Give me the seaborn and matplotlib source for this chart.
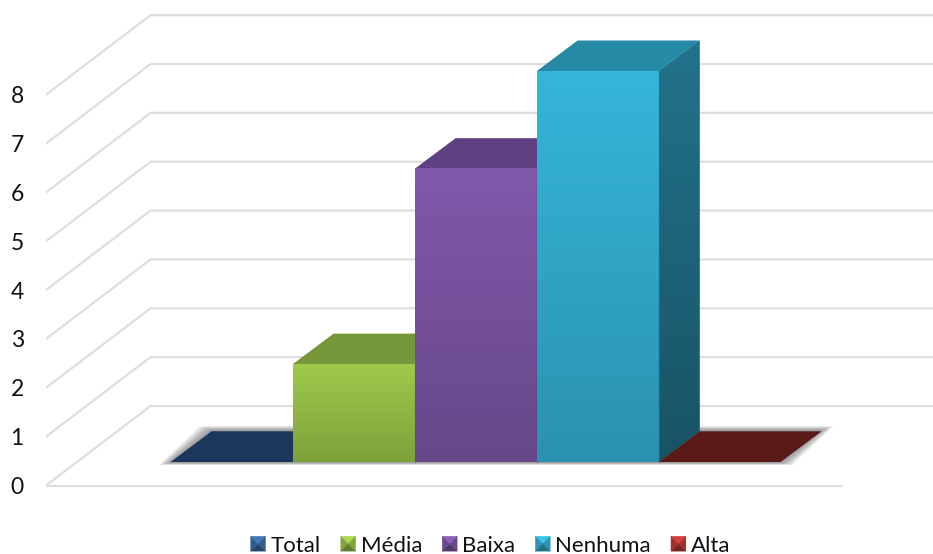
import numpy as np
import pandas as pd
import matplotlib
matplotlib.use("Agg")
import matplotlib.pyplot as plt
from matplotlib.colors import to_rgb, LinearSegmentedColormap
from matplotlib.patches import Polygon, Rectangle
from matplotlib.legend_handler import HandlerBase
import seaborn as sns

categories = ["Total", "Média", "Baixa", "Nenhuma", "Alta"]
values = [0, 2, 6, 8, 0]
y_ticks = [0, 1, 2, 3, 4, 5, 6, 7, 8]

front_colors = ["#3A70AE", "#9FC94A", "#8059AB", "#35B6DA", "#C83A36"]
top_colors = ["#1B375C", "#76963A", "#5E4083", "#268AA6", "#5A1B18"]
side_colors = ["#16304F", "#5F7A2D", "#4A3368", "#22738C", "#4A1614"]

W, H = 933, 554
sns.set_theme(style="white")
plt.rcParams["font.family"] = ["Lato", "DejaVu Sans"]
fig = plt.figure(figsize=(W / 100, H / 100), dpi=100)
ax_left, ax_bottom_px = 46, 500
ax = fig.add_axes([ax_left / W, 1 - ax_bottom_px / H, (W - ax_left) / W, ax_bottom_px / H])

df = pd.DataFrame({"cat": categories, "val": values})
sns.barplot(data=df, x="cat", y="val", hue="cat", hue_order=categories,
            palette=dict(zip(categories, front_colors)), width=1.0, gap=0,
            saturation=1, ax=ax, legend=True, zorder=5)

# pixel scale of the plot
PX_PER_CAT, PX_PER_UNIT = 122.0, 48.85
X0_PX, Y0_PX = 231.6, 462.0
def set_limits():
    ax.set_xlim((ax_left - X0_PX) / PX_PER_CAT, (W - X0_PX) / PX_PER_CAT)
    ax.set_ylim((Y0_PX - ax_bottom_px) / PX_PER_UNIT, Y0_PX / PX_PER_UNIT)
set_limits()

grid_c = "#DEDEDE"
front_base = (Y0_PX - 485.5) / PX_PER_UNIT
wall_dx, wall_dy = 104.5 / PX_PER_CAT, 79.5 / PX_PER_UNIT
front_end = (841.7 - X0_PX) / PX_PER_CAT
x_start = (ax_left - X0_PX) / PX_PER_CAT
for v in y_ticks:
    y = front_base + v
    ax.plot([x_start, x_start + wall_dx, 6], [y, y + wall_dy, y + wall_dy],
            color=grid_c, lw=1.6, zorder=1, solid_joinstyle="miter", clip_on=True)
ax.plot([x_start, front_end], [front_base, front_base], color=grid_c, lw=1.6, zorder=1)

ax.set_yticks([front_base + v for v in y_ticks], labels=[str(v) for v in y_ticks])
ax.tick_params(axis="y", length=0, pad=16.0, labelsize=16.5, labelcolor="#111111")
ax.set_xticks([])
ax.set_xlabel("")
ax.set_ylabel("")
sns.despine(ax=ax, left=True, bottom=True)
ax.grid(False)

dx, dy = 41.0 / PX_PER_CAT, 30.7 / PX_PER_UNIT
rects = [c[0] for c in ax.containers]

# soft shadow beneath the floor
x_lo, x_hi = rects[0].get_x(), rects[-1].get_x() + rects[-1].get_width()
n_levels = 14
for k in range(1, n_levels + 1):
    ex = (k * 1.0 - 2) / PX_PER_CAT
    eu = (k * 0.38) / PX_PER_UNIT
    ed = (k * 0.22) / PX_PER_UNIT
    ax.add_patch(Polygon([(x_lo - ex, -ed), (x_hi + ex, -ed),
                          (x_hi + dx + ex, dy + eu), (x_lo + dx - ex, dy + eu)],
                         closed=True, fc="#505050", ec="none", alpha=0.06, zorder=2))

def gradient(c, top=1.0, bottom=0.8):
    c = np.array(to_rgb(c))
    return LinearSegmentedColormap.from_list("g", [c * bottom, c * top])

grad = np.linspace(0, 1, 256).reshape(-1, 1)
for i, r in enumerate(rects):
    x0, x1, h = r.get_x(), r.get_x() + r.get_width(), r.get_height()
    z = 5 + i
    r.set_edgecolor("none")
    r.set_linewidth(0)
    if h > 0:
        side = Polygon([(x1, 0), (x1 + dx, dy), (x1 + dx, h + dy), (x1, h)],
                       closed=True, fc=side_colors[i], ec="none", zorder=z)
        ax.add_patch(side)
        im = ax.imshow(grad, origin="lower", aspect="auto", extent=(x1, x1 + dx, 0, h + dy),
                       cmap=gradient(side_colors[i], 1.0, 0.72), zorder=z)
        im.set_clip_path(side)
    ax.add_patch(Polygon([(x0, h), (x1, h), (x1 + dx, h + dy), (x0 + dx, h + dy)],
                         closed=True, fc=top_colors[i], ec="none", zorder=z + 0.1))
    if h > 0:
        r.set_zorder(z + 0.2)
        r.set_facecolor(np.array(to_rgb(front_colors[i])) * 0.9)
        im = ax.imshow(grad, origin="lower", aspect="auto", extent=(x0, x1, 0, h),
                       cmap=gradient(front_colors[i]), zorder=z + 0.25)
        ax.plot([x1, x1], [0, h], color=side_colors[i], lw=1.0, alpha=0.5, zorder=z + 0.3)
set_limits()

class PyramidHandler(HandlerBase):
    def create_artists(self, legend, orig, xd, yd, width, height, fontsize, trans):
        c = np.array(to_rgb(orig.get_facecolor()))
        x0, y0 = -xd, -yd + (height - width) / 2
        cx, cy, s = x0 + width / 2, y0 + width / 2, width
        tl, tr, bl, br = (x0, y0 + s), (x0 + s, y0 + s), (x0, y0), (x0 + s, y0)
        parts = [([tl, tr, (cx, cy)], np.clip(c * 1.08, 0, 1)),
                 ([bl, tl, (cx, cy)], c * 0.82),
                 ([br, tr, (cx, cy)], c * 0.82),
                 ([bl, br, (cx, cy)], c * 0.62)]
        return [Polygon(p, closed=True, fc=col, ec=col, lw=0.2, transform=trans) for p, col in parts]

handles, labels = ax.get_legend_handles_labels()
fs = 16.0
px = fs * 100 / 72
leg = ax.legend(handles, labels, ncol=5, frameon=False, fontsize=fs,
                loc="center", bbox_to_anchor=(490.5 / W, 1 - 545.5 / H),
                bbox_transform=fig.transFigure, borderaxespad=0, borderpad=0,
                handlelength=15 / px, handleheight=15 / px, handletextpad=5 / px,
                columnspacing=20 / px, labelspacing=0,
                handler_map={Rectangle: PyramidHandler()})
for t in leg.get_texts():
    t.set_color("#111111")

fig.savefig("out.png", dpi=100, facecolor="white")
